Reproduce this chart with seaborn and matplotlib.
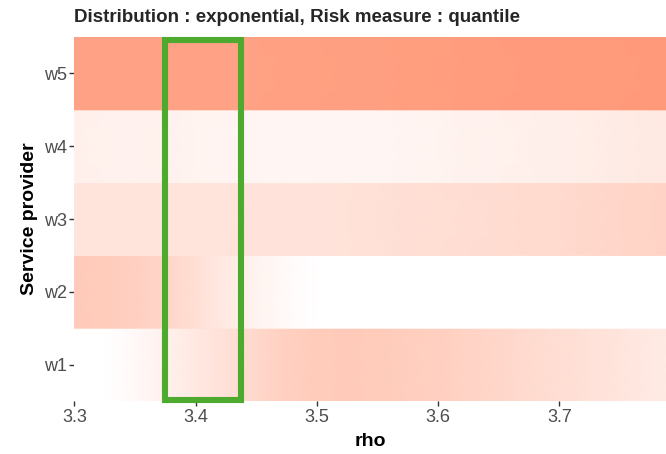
import numpy as np
import pandas as pd
import matplotlib
matplotlib.use("Agg")
import matplotlib.pyplot as plt
import seaborn as sns

# rho grid and risk score per service provider
rho = [3.300, 3.325, 3.350, 3.375, 3.400, 3.425, 3.450, 3.475, 3.500, 3.525,
       3.550, 3.575, 3.600, 3.625, 3.650, 3.675, 3.700, 3.725, 3.750, 3.775, 3.800]
providers = ["w1", "w2", "w3", "w4", "w5"]
w1 = [0.00, 0.00, 0.05, 0.12, 0.19, 0.26, 0.33, 0.40, 0.44, 0.45,
      0.44, 0.42, 0.40, 0.37, 0.34, 0.31, 0.28, 0.25, 0.22, 0.19, 0.17]
w2 = [0.45, 0.44, 0.40, 0.35, 0.27, 0.18, 0.10, 0.04, 0.00, 0.00,
      0.00, 0.00, 0.00, 0.00, 0.00, 0.00, 0.00, 0.00, 0.00, 0.00, 0.00]
w3 = [0.23, 0.23, 0.23, 0.23, 0.23, 0.23, 0.24, 0.24, 0.24, 0.25,
      0.26, 0.27, 0.28, 0.29, 0.30, 0.31, 0.32, 0.33, 0.35, 0.36, 0.37]
w4 = [0.13, 0.12, 0.12, 0.11, 0.10, 0.09, 0.08, 0.08, 0.08, 0.08,
      0.08, 0.09, 0.10, 0.11, 0.12, 0.13, 0.14, 0.15, 0.17, 0.18, 0.19]
w5 = [0.80, 0.80, 0.80, 0.80, 0.80, 0.80, 0.80, 0.81, 0.81, 0.82,
      0.82, 0.83, 0.83, 0.84, 0.84, 0.85, 0.85, 0.86, 0.86, 0.87, 0.87]
highlight_rho = (3.375, 3.4375)

df = pd.DataFrame({"rho": rho, "w1": w1, "w2": w2, "w3": w3, "w4": w4, "w5": w5})
long = df.melt(id_vars="rho", var_name="provider", value_name="risk")

sns.set_theme(style="white")
plt.rcParams["font.family"] = ["Liberation Sans", "DejaVu Sans"]

cmap = sns.blend_palette(["#FFFFFF", "#FF8A65"], as_cmap=True)

fig = plt.figure(figsize=(6.66, 4.54), dpi=100)
ax = fig.add_axes([0.1116, 0.1167, 0.8884, 0.8018])

# each provider is one horizontal band, shaded smoothly along rho
for i, p in enumerate(providers, start=1):
    sub = long[long["provider"] == p].sort_values("rho")
    xs = sub["rho"].to_numpy()
    vals = sub["risk"].to_numpy()
    X, Y = np.meshgrid(xs, [i - 0.5, i + 0.5])
    C = np.vstack([vals, vals])
    ax.pcolormesh(X, Y, C, shading="gouraud", cmap=cmap, vmin=0, vmax=1,
                  rasterized=True)

# highlighted rho window
ax.add_patch(plt.Rectangle((highlight_rho[0], 0.51),
                           highlight_rho[1] - highlight_rho[0], 5.46 - 0.51,
                           fill=False, edgecolor="#4DAA2F", linewidth=4.4,
                           clip_on=False, zorder=5))

ax.set_xlim(3.3, 3.788)
ax.set_ylim(0.5, 5.5)
ax.set_xticks([3.3, 3.4, 3.5, 3.6, 3.7])
ax.set_xticklabels(["3.3", "3.4", "3.5", "3.6", "3.7"])
ax.set_yticks(range(1, len(providers) + 1))
ax.set_yticklabels(providers)
sns.despine(ax=ax, left=True, bottom=True, top=True, right=True)
ax.tick_params(axis="both", which="both", length=3.5, width=1.0,
               color="#333333", labelcolor="#4D4D4D", labelsize=13, pad=2,
               bottom=True, left=True)
ax.grid(False)

ax.set_xlabel("rho", fontsize=14, fontweight="bold", color="black", labelpad=5)
ax.set_ylabel("Service provider", fontsize=14, fontweight="bold", color="black",
              labelpad=4)
ax.set_title("Distribution : exponential, Risk measure : quantile",
             fontsize=13.5, fontweight="bold", loc="left", x=-0.0, pad=11)

fig.savefig("out.png", dpi=100, facecolor="white")
